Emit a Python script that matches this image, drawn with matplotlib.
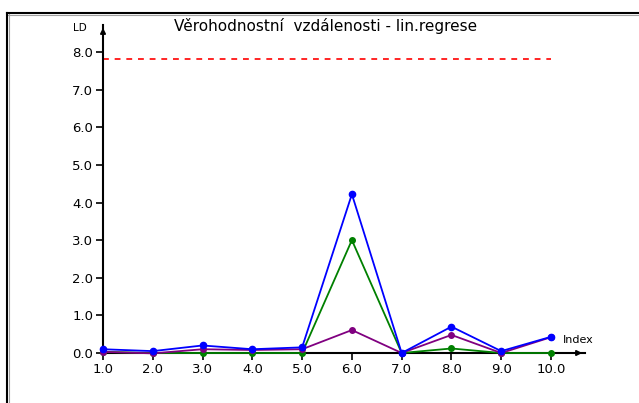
import matplotlib
matplotlib.use("Agg")
import matplotlib.pyplot as plt
from matplotlib.lines import Line2D

index = [1, 2, 3, 4, 5, 6, 7, 8, 9, 10]
blue_vals = [0.10, 0.05, 0.20, 0.10, 0.15, 4.22, 0.00, 0.70, 0.05, 0.43]
purple_vals = [0.03, -0.01, 0.10, 0.08, 0.10, 0.61, 0.00, 0.48, 0.00, 0.42]
green_vals = [0.03, 0.00, 0.00, 0.00, 0.00, 3.00, 0.00, 0.12, 0.00, 0.00]
limit_val = 7.82
yticks = [0, 1, 2, 3, 4, 5, 6, 7, 8]
xticks = [1, 2, 3, 4, 5, 6, 7, 8, 9, 10]
title = "Věrohodnostní  vzdálenosti - lin.regrese"

W, H = 639, 403
fig = plt.figure(figsize=(W / 100, H / 100), dpi=100)

left_px, right_px, bottom_px, top_px = 103, 585, 353, 25
ax = fig.add_axes([left_px / W, 1 - bottom_px / H, (right_px - left_px) / W, (bottom_px - top_px) / H])
xunit = (551 - 103) / 9.0
yunit = (353 - 52) / 8.0
ax.set_xlim(1, 1 + (right_px - left_px) / xunit)
ax.set_ylim(0, (bottom_px - top_px) / yunit)

ax.plot([1, 10], [limit_val, limit_val], color="#ff0000", lw=1.2, ls=(0, (3.5, 3.5)))
ax.plot(index, green_vals, color="#008000", lw=1.3, marker="o", ms=4, zorder=3, clip_on=False)
ax.plot(index, purple_vals, color="#800080", lw=1.3, marker="o", ms=4, zorder=4, clip_on=False)
ax.plot(index, blue_vals, color="#0000ff", lw=1.3, marker="o", ms=4.5, zorder=5, clip_on=False)

for s in ["top", "right"]:
    ax.spines[s].set_visible(False)
for s in ["left", "bottom"]:
    ax.spines[s].set_linewidth(1.5)
    ax.spines[s].set_color("black")

ax.set_xticks(xticks)
ax.set_xticklabels([f"{v:.1f}" for v in xticks])
ax.set_yticks(yticks)
ax.set_yticklabels([f"{v:.1f}" for v in yticks])
ax.tick_params(axis="both", direction="out", length=5, width=1.2, labelsize=9.5, pad=2, colors="black")

ax.annotate("", xy=(0, 1.0), xycoords="axes fraction", xytext=(0, 0.95),
            arrowprops=dict(arrowstyle="-|>", color="black", lw=1.2, mutation_scale=8))
ax.annotate("", xy=(1.0, 0), xycoords="axes fraction", xytext=(0.95, 0),
            arrowprops=dict(arrowstyle="-|>", color="black", lw=1.2, mutation_scale=8))

fig.text(73 / W, 1 - 28 / H, "LD", fontsize=7.5, ha="left", va="center")
fig.text(563 / W, 1 - 340 / H, "Index", fontsize=8, ha="left", va="center")
fig.text(326 / W, 1 - 26 / H, title, fontsize=11, ha="center", va="center")

fig.add_artist(Line2D([7 / W, 1], [1 - 13 / H, 1 - 13 / H], color="black", lw=1.5))
fig.add_artist(Line2D([7 / W, 1], [1 - 14.5 / H, 1 - 14.5 / H], color="#a0a0a0", lw=0.8))
fig.add_artist(Line2D([7 / W, 7 / W], [0, 1 - 13 / H], color="black", lw=1.5))
fig.add_artist(Line2D([8.5 / W, 8.5 / W], [0, 1 - 14 / H], color="#a0a0a0", lw=0.8))

fig.savefig("out.png", dpi=100)
